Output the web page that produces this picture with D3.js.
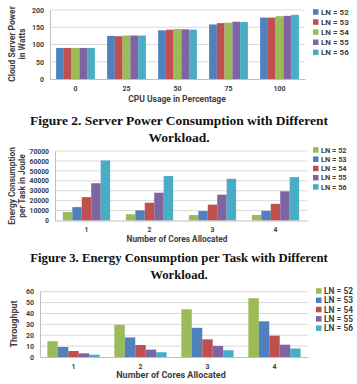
<!DOCTYPE html>
<html lang="en">
  <head>
    <meta charset="utf-8">
    <title>Server power and energy charts</title>
    <script src="https://d3js.org/d3.v7.min.js"></script>
    <style>
      body { margin: 0; background: #fff; }
      svg text { font-family: Roboto, "Liberation Sans", sans-serif; fill: #404040; }
      .caption { font-family: "Liberation Serif", "Times New Roman", serif; font-weight: bold; fill: #111; }
    </style>
  </head>
  <body>
    <svg width="357" height="384"></svg>
    <script type="text/javascript">
      // series names, same for all three charts
      var lnNames = ["LN = 52", "LN = 53", "LN = 54", "LN = 55", "LN = 56"];

      // Figure 2: power vs cpu usage
      var cpuUsage = ["0", "25", "50", "75", "100"];
      var powerLN52 = [90, 125, 141, 158, 178];
      var powerLN53 = [90, 124, 143, 162, 178];
      var powerLN54 = [90, 126, 145, 163, 182];
      var powerLN55 = [90, 126, 144, 166, 183];
      var powerLN56 = [90, 126, 143, 165, 186];
      var powerTicks = [0, 50, 100, 150, 200];

      // Figure 3: energy per task vs cores
      var cores = ["1", "2", "3", "4"];
      var energyLN52 = [8500, 6300, 5500, 5600];
      var energyLN53 = [13500, 10200, 9500, 9700];
      var energyLN54 = [23500, 17900, 16000, 16800];
      var energyLN55 = [37500, 28000, 26000, 29400];
      var energyLN56 = [60500, 44800, 42000, 43700];
      var energyTicks = [0, 10000, 20000, 30000, 40000, 50000, 60000, 70000];

      // last chart: throughput vs cores
      var thrLN52 = [14.5, 29.5, 43.8, 54];
      var thrLN53 = [9.2, 18, 26.8, 32.8];
      var thrLN54 = [5.5, 11, 16.2, 19.6];
      var thrLN55 = [3.4, 6.8, 10.2, 11.3];
      var thrLN56 = [2.1, 4.4, 6.2, 7.8];
      var thrTicks = [0, 10, 20, 30, 40, 50, 60];

      var blue = "#4f81bd", red = "#c0504d", green = "#9bbb59",
          purple = "#8064a2", cyan = "#4bacc6";

      var svg = d3.select("svg");

      function drawChart(c) {
        var g = svg.append("g");
        var x0 = d3.scaleBand().domain(c.cats).range([c.left, c.right]);
        var x1 = d3.scaleBand().domain(d3.range(c.series.length))
            .range([0, x0.bandwidth() * c.groupFrac]);
        var y = d3.scaleLinear().domain([0, c.ticks[c.ticks.length - 1]])
            .range([c.bottom, c.top]);

        // gridlines
        g.append("g").selectAll("line")
          .data(c.ticks.slice(1))
          .enter().append("line")
          .attr("x1", c.left).attr("x2", c.right)
          .attr("y1", function(d) { return y(d); })
          .attr("y2", function(d) { return y(d); })
          .attr("stroke", "#d9d9d9").attr("stroke-width", 1);

        // y axis via d3.axisLeft, then restyled
        var ya = g.append("g")
          .attr("transform", "translate(" + c.left + ",0)")
          .call(d3.axisLeft(y).tickValues(c.ticks).tickFormat(d3.format("d"))
            .tickSize(0).tickPadding(c.tickPad));
        ya.select(".domain").attr("stroke", "#bfbfbf");
        ya.selectAll("text")
          .style("font-size", c.tickFont + "px").style("font-weight", "bold")
          .style("font-family", "Roboto, sans-serif").attr("fill", "#404040");

        // bars
        var groups = g.append("g").selectAll("g")
          .data(c.cats)
          .enter().append("g")
          .attr("transform", function(d) {
            return "translate(" + (x0(d) + x0.bandwidth() * (1 - c.groupFrac) / 2) + ",0)";
          });
        groups.selectAll("rect")
          .data(function(d, i) {
            return c.series.map(function(s, k) { return { k: k, v: s[i] }; });
          })
          .enter().append("rect")
          .attr("x", function(d) { return x1(d.k); })
          .attr("width", x1.bandwidth())
          .attr("y", function(d) { return y(d.v); })
          .attr("height", function(d) { return c.bottom - y(d.v); })
          .attr("fill", function(d) { return c.colors[d.k]; });

        // x axis
        var xa = g.append("g")
          .attr("transform", "translate(0," + c.bottom + ")")
          .call(d3.axisBottom(x0).tickSize(0).tickPadding(c.xPad));
        xa.select(".domain").attr("stroke", "#bfbfbf");
        xa.selectAll("text")
          .style("font-size", c.tickFont + "px").style("font-weight", "bold")
          .style("font-family", "Roboto, sans-serif").attr("fill", "#404040");

        // axis titles
        g.append("text")
          .attr("x", c.xTitleX).attr("y", c.xTitleY)
          .attr("text-anchor", "middle")
          .style("font-size", c.titleFont + "px").style("font-weight", "bold")
          .text(c.xTitle);

        c.yTitle.forEach(function(line, i) {
          g.append("text")
            .attr("transform", "translate(" + c.yTitleX[i] + "," + c.yTitleY + ") rotate(-90)")
            .attr("text-anchor", "middle")
            .style("font-size", c.titleFont + "px").style("font-weight", "bold")
            .text(line);
        });

        // legend
        var leg = g.append("g").selectAll("g")
          .data(lnNames)
          .enter().append("g")
          .attr("transform", function(d, i) {
            return "translate(" + c.legX + "," + (c.legY + i * c.legStep) + ")";
          });
        leg.append("rect")
          .attr("x", 0).attr("y", -2.8)
          .attr("width", 5.5).attr("height", 5.5)
          .attr("fill", function(d, i) { return c.colors[i]; });
        leg.append("text")
          .attr("x", 8).attr("dy", "0.35em")
          .style("font-size", c.legFont + "px").style("font-weight", "bold")
          .text(function(d) { return d; });
      }

      function caption(lines, cx, y0, step, width) {
        lines.forEach(function(line, i) {
          var t = svg.append("text")
            .attr("class", "caption")
            .attr("x", cx).attr("y", y0 + i * step)
            .attr("text-anchor", "middle")
            .style("font-size", "13px")
            .text(line);
          if (i == 0) {
            var len = t.node().getComputedTextLength();
            caption.size = 13 * width / len;
          }
          t.style("font-size", caption.size + "px");
        });
      }

      drawChart({
        cats: cpuUsage,
        series: [powerLN52, powerLN53, powerLN54, powerLN55, powerLN56],
        colors: [blue, red, green, purple, cyan],
        ticks: powerTicks,
        left: 50, right: 305, top: 10, bottom: 79,
        groupFrac: 0.76,
        tickFont: 7, tickPad: 6, xPad: 7,
        titleFont: 8.5,
        xTitle: "CPU Usage in Percentage", xTitleX: 177, xTitleY: 102,
        yTitle: ["Cloud Server Power", "in Watts"], yTitleX: [15, 25], yTitleY: 44,
        legX: 313, legY: 12, legStep: 10.1, legFont: 8
      });

      drawChart({
        cats: cores,
        series: [energyLN52, energyLN53, energyLN54, energyLN55, energyLN56],
        colors: [green, blue, red, purple, cyan],
        ticks: energyTicks,
        left: 55, right: 307, top: 151, bottom: 220.5,
        groupFrac: 0.75,
        tickFont: 6.8, tickPad: 6, xPad: 7,
        titleFont: 8.3,
        xTitle: "Number of Cores Allocated", xTitleX: 177, xTitleY: 242,
        yTitle: ["Energy Consumption", "per Task in Joule"], yTitleX: [15, 25], yTitleY: 186,
        legX: 313, legY: 150, legStep: 9.25, legFont: 7.4
      });

      drawChart({
        cats: cores,
        series: [thrLN52, thrLN53, thrLN54, thrLN55, thrLN56],
        colors: [green, blue, red, purple, cyan],
        ticks: thrTicks,
        left: 40, right: 308, top: 291.7, bottom: 357,
        groupFrac: 0.78,
        tickFont: 7, tickPad: 6, xPad: 7,
        titleFont: 9,
        xTitle: "Number of Cores Allocated", xTitleX: 171, xTitleY: 378,
        yTitle: ["Throughput"], yTitleX: [17], yTitleY: 324,
        legX: 316, legY: 291, legStep: 9.3, legFont: 8.4
      });

      caption(["Figure 2. Server Power Consumption with Different", "Workload."], 179, 125, 16.5, 298);
      caption(["Figure 3. Energy Consumption per Task with Different", "Workload."], 179, 262, 16.5, 298);
    </script>
  </body>
</html>
